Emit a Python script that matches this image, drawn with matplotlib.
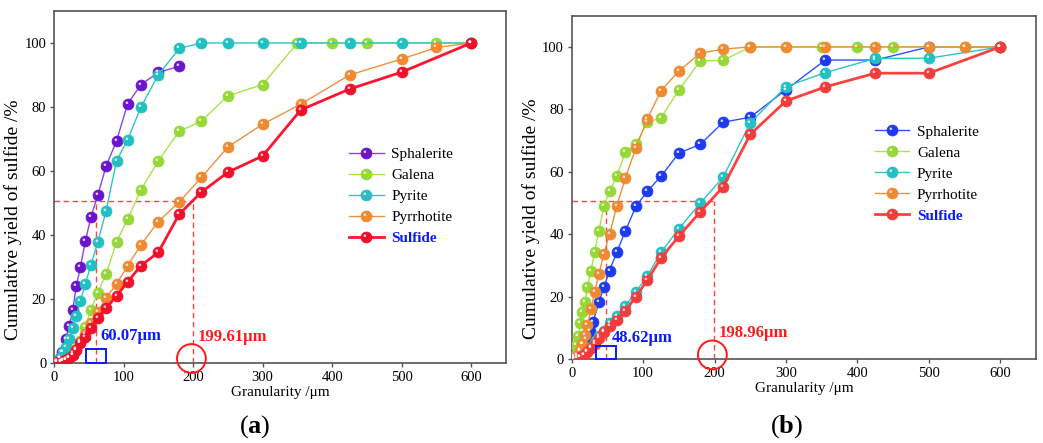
import numpy as np
import matplotlib
matplotlib.use("Agg")
import matplotlib.pyplot as plt
from matplotlib.path import Path
from matplotlib.lines import Line2D
from matplotlib.legend_handler import HandlerTuple
from matplotlib.patches import Rectangle

plt.rcParams['font.family'] = ['Liberation Serif', 'DejaVu Serif']
plt.rcParams['mathtext.fontset'] = 'custom'
plt.rcParams['mathtext.rm'] = 'Liberation Serif'
plt.rcParams['mathtext.bf'] = 'Liberation Serif:bold'

# ---------------- Panel (a) data ----------------
a_sph_x = [4, 8, 12, 17, 22, 27, 32, 38, 45, 53, 63, 75, 90, 106, 125, 150, 180]
a_sph_y = [0.5, 1.5, 3.5, 7.5, 11.5, 16.5, 24, 30, 38, 45.5, 52.5, 61.5, 69.5, 81, 87, 90.8, 92.7]

a_gal_x = [5, 10, 13, 17, 22, 27, 32, 38, 45, 53, 63, 75, 90, 106, 125, 150, 180, 212, 250, 300, 350, 400, 450, 550, 600]
a_gal_y = [0.2, 0.5, 0.8, 1.3, 2, 3, 4.5, 7, 11.4, 16.6, 22, 27.8, 37.9, 45, 54.1, 63.2, 72.4, 75.6, 83.5, 87, 100, 100, 100, 100, 100]

a_pyr_x = [4, 8, 13, 17, 22, 27, 32, 38, 45, 53, 63, 75, 90, 106, 125, 150, 180, 212, 250, 300, 355, 425, 500, 600]
a_pyr_y = [0.5, 1.5, 3.3, 5.1, 7.4, 10.8, 14.7, 19.4, 24.7, 30.6, 37.8, 47.6, 63.2, 69.8, 80, 90, 98.3, 100, 100, 100, 100, 100, 100, 100]

a_pyh_x = [5, 10, 13, 17, 22, 27, 32, 38, 45, 53, 63, 75, 90, 106, 125, 150, 180, 212, 250, 300, 355, 425, 500, 550, 600]
a_pyh_y = [0.2, 0.4, 0.7, 1, 1.6, 2.5, 4, 6.5, 9, 12.5, 16, 20.4, 24.7, 30.4, 36.9, 44.2, 50.3, 58, 67.5, 74.6, 80.9, 90, 95, 98.6, 100]

a_sul_x = [5, 10, 13, 17, 22, 27, 32, 38, 45, 53, 63, 75, 90, 106, 125, 150, 180, 212, 250, 300, 355, 425, 500, 600]
a_sul_y = [0.2, 0.4, 0.6, 1, 1.5, 2.5, 4, 6.1, 8.2, 11, 14.2, 17.1, 21, 25.4, 30.4, 34.6, 46.5, 53.4, 59.6, 64.7, 79.1, 85.6, 90.9, 100]

a_d50_small = 60.07
a_d50_large = 199.61
a_level = 50.7

# ---------------- Panel (b) data ----------------
b_sph_x = [3, 7, 12, 16, 20, 25, 30, 38, 45, 53, 63, 75, 90, 106, 125, 150, 180, 212, 250, 300, 355, 425, 500, 600]
b_sph_y = [0.3, 1.5, 3, 5, 6.5, 9, 12, 18.3, 23, 28.4, 34.2, 41, 49, 53.8, 58.6, 66, 68.8, 75.9, 77.5, 86.3, 95.8, 95.8, 100, 100]

b_gal_x = [3, 6, 9, 12, 15, 19, 22, 27, 32, 38, 45, 53, 63, 75, 90, 106, 125, 150, 180, 212, 250, 350, 400, 450, 550, 600]
b_gal_y = [1, 4.5, 7.5, 11.5, 15, 18.5, 23, 28.4, 34.3, 41, 49, 53.8, 58.6, 66.3, 69, 75.9, 77.3, 86.2, 95.5, 95.7, 100, 100, 100, 100, 100, 100]

b_pyr_x = [3, 7, 12, 17, 22, 27, 32, 38, 45, 53, 63, 75, 90, 106, 125, 150, 180, 212, 250, 300, 355, 425, 500, 600]
b_pyr_y = [0.1, 0.3, 0.8, 1.5, 2.5, 3.8, 5.5, 7.3, 9.2, 11.6, 13.8, 17, 21.7, 26.7, 34.2, 41.8, 50, 58.3, 75.7, 87.3, 91.8, 96.3, 96.4, 100]

b_pyh_x = [3, 7, 11, 15, 18, 22, 27, 32, 38, 45, 53, 63, 75, 90, 106, 125, 150, 180, 212, 250, 300, 355, 425, 500, 550, 600]
b_pyh_y = [0.3, 1, 2.5, 4.9, 7.7, 11, 16, 21.5, 27.2, 33.7, 40, 49, 58, 67.7, 77, 86, 92.3, 98, 99.3, 100, 100, 100, 100, 100, 100, 100]

b_sul_x = [3, 7, 12, 17, 22, 27, 32, 38, 45, 53, 63, 75, 90, 106, 125, 150, 180, 212, 250, 300, 355, 425, 500, 600]
b_sul_y = [0.1, 0.3, 0.7, 1.3, 2.3, 3.5, 5, 6.8, 8.7, 10.8, 12.6, 15.5, 20.1, 25.4, 32.4, 39.4, 47.2, 55.2, 72, 82.7, 87.2, 91.6, 91.6, 100]

b_d50_small = 48.62
b_d50_large = 198.96
b_level = 50.8

labels = ['Sphalerite', 'Galena', 'Pyrite', 'Pyrrhotite', 'Sulfide']
xticks = [0, 100, 200, 300, 400, 500, 600]
yticks = [0, 20, 40, 60, 80, 100]

# glossy highlight marker: small off-center circle, framed by invisible move-to points
_circ = Path.circle(center=(-0.3, 0.32), radius=0.24)
_verts = np.vstack([[[-1, -1]], [[1, 1]], _circ.vertices])
_codes = np.concatenate([[Path.MOVETO, Path.MOVETO], _circ.codes])
HL = Path(_verts, _codes)

MS = 7.8

def series(ax, x, y, lc, mc, lw, ec=None):
    main, = ax.plot(x, y, '-', color=lc, lw=lw, marker='o', ms=MS,
                    mfc=mc, mec=ec or mc, mew=0.6, zorder=3)
    hl, = ax.plot(x, y, ls='none', marker=HL, ms=MS, mfc='white', mec='none',
                  alpha=0.8, zorder=3.1)
    return (main, hl)

def style(ax):
    ax.set_xlim(0, 650)
    ax.set_ylim(0, 110)
    ax.set_xticks(xticks)
    ax.set_yticks(yticks)
    for s in ax.spines.values():
        s.set_color('#555555')
        s.set_linewidth(1.2)
    ax.tick_params(direction='out', length=3, width=1, color='#555555',
                   labelsize=10.5, pad=2.5)
    ax.set_xlabel('Granularity /μm', fontsize=11, labelpad=1.5)
    ax.set_ylabel('Cumulative yield of sulfide /%', fontsize=14)

def guides(ax, d_small, d_large, level, txt_small_xy, txt_large_xy):
    dash = dict(color='#ff4545', lw=1.0, ls=(0, (4, 2.5)), zorder=2)
    ax.plot([0, d_large], [level, level], **dash)
    ax.plot([d_small, d_small], [0, level], **dash)
    ax.plot([d_large, d_large], [0, level], **dash)
    ax.add_patch(Rectangle((d_small - 14, 0), 28, 4.3, fill=False, ec='#0a1aff',
                           lw=1.4, zorder=4, clip_on=False))
    ax.scatter([d_large - 2], [1.4], s=430, facecolors='none', edgecolors='#ff1a1a',
               linewidths=1.4, zorder=4, clip_on=False)
    ax.text(txt_small_xy[0], txt_small_xy[1], f'{d_small:.2f}μm', color='#0a1aff',
            fontsize=12, fontweight='bold', va='center', ha='left', zorder=5)
    ax.text(txt_large_xy[0], txt_large_xy[1], f'{d_large:.2f}μm', color='#ff1a1a',
            fontsize=12, fontweight='bold', va='center', ha='left', zorder=5)

fig = plt.figure(figsize=(10.43, 4.43), dpi=100)
W, H = 1043, 443
axA = fig.add_axes([54 / W, 1 - 363 / H, 452 / W, 352 / H])
axB = fig.add_axes([571.7 / W, 1 - 359.3 / H, 464.3 / W, 343.6 / H])

# ---- Panel (a)
style(axA)
guides(axA, a_d50_small, a_d50_large, a_level, (66, 8.3), (207, 8.2))
hA = [
    series(axA, a_sph_x, a_sph_y, '#8a45e8', '#6a14cf', 1.0),
    series(axA, a_gal_x, a_gal_y, '#a6e64a', '#96d838', 1.0),
    series(axA, a_pyr_x, a_pyr_y, '#2cc6c6', '#22c0c2', 1.0),
    series(axA, a_pyh_x, a_pyh_y, '#f0913a', '#ef8a30', 1.0),
    series(axA, a_sul_x, a_sul_y, '#ff1430', '#f0102c', 2.0),
]
axA.yaxis.set_label_coords(-0.071, 0.406)

# ---- Panel (b)
style(axB)
guides(axB, b_d50_small, b_d50_large, b_level, (56, 6.9), (206, 8.4))
hB = [
    series(axB, b_sph_x, b_sph_y, '#3050ff', '#1d3af0', 1.0),
    series(axB, b_gal_x, b_gal_y, '#a6e64a', '#96d838', 1.0),
    series(axB, b_pyr_x, b_pyr_y, '#2cc6c6', '#22c0c2', 1.0),
    series(axB, b_pyh_x, b_pyh_y, '#f0913a', '#ef8a30', 1.0),
    series(axB, b_sul_x, b_sul_y, '#ff4040', '#f23c3c', 2.0),
]
axB.yaxis.set_label_coords(-0.068, 0.41)

def legend(ax, handles, anchor):
    leg = ax.legend(handles, labels, handler_map={tuple: HandlerTuple(ndivide=1)},
                    loc='center left', bbox_to_anchor=anchor, frameon=False,
                    fontsize=11, handlelength=2.25, handletextpad=0.5,
                    labelspacing=0.48, borderpad=0, borderaxespad=0)
    t = leg.get_texts()[-1]
    t.set_color('#0a1aff')
    t.set_fontweight('bold')
    return leg

legend(axA, hA, (0.653, 0.474))
legend(axB, hB, (0.653, 0.540))

fig.text(255 / W, 1 - 427 / H, r'$(\mathbf{a})$', ha='center', va='center', fontsize=19)
fig.text(787 / W, 1 - 427 / H, r'$(\mathbf{b})$', ha='center', va='center', fontsize=19)

fig.savefig('out.png', dpi=100)
